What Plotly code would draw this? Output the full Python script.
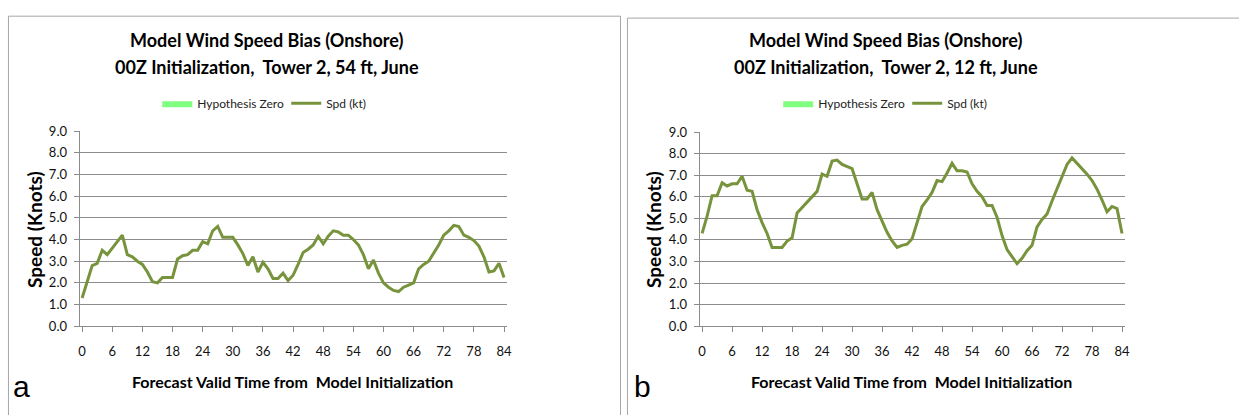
import plotly.graph_objects as go

hours = list(range(85))
hyp_zero = [0] * 85

spd_54ft = [1.3, 2.0, 2.8, 2.9, 3.5, 3.3, 3.6, 3.9, 4.2, 3.3,
            3.2, 3.0, 2.85, 2.5, 2.05, 2.0, 2.25, 2.25, 2.25, 3.1,
            3.25, 3.3, 3.5, 3.5, 3.9, 3.8, 4.4, 4.6, 4.1, 4.1,
            4.1, 3.75, 3.35, 2.8, 3.2, 2.5, 2.95, 2.65, 2.2, 2.2,
            2.45, 2.1, 2.35, 2.85, 3.4, 3.55, 3.75, 4.15, 3.8, 4.15,
            4.4, 4.35, 4.2, 4.2, 4.0, 3.75, 3.3, 2.65, 3.05, 2.45,
            2.0, 1.8, 1.65, 1.6, 1.8, 1.9, 2.0, 2.65, 2.85, 3.0,
            3.35, 3.75, 4.2, 4.4, 4.65, 4.6, 4.2, 4.1, 3.95, 3.7,
            3.2, 2.5, 2.55, 2.9, 2.25]

spd_12ft = [4.3, 5.1, 6.05, 6.05, 6.65, 6.5, 6.6, 6.6, 6.95, 6.3,
            6.25, 5.4, 4.8, 4.3, 3.65, 3.65, 3.65, 3.95, 4.1, 5.25,
            5.5, 5.8, 6.05, 6.25, 7.05, 6.95, 7.65, 7.7, 7.5, 7.4,
            7.3, 6.6, 5.9, 5.9, 6.2, 5.4, 4.85, 4.35, 3.95, 3.65,
            3.75, 3.8, 4.05, 4.8, 5.55, 5.85, 6.2, 6.75, 6.7, 7.1,
            7.55, 7.2, 7.2, 7.15, 6.6, 6.25, 6.0, 5.6, 5.6, 5.05,
            4.2, 3.55, 3.25, 2.9, 3.15, 3.5, 3.75, 4.6, 4.95, 5.2,
            5.8, 6.35, 6.9, 7.5, 7.8, 7.55, 7.35, 7.05, 6.75, 6.35,
            5.85, 5.3, 5.55, 5.45, 4.3]

x_ticks = list(range(0, 85, 6))
title_line1 = ["Model Wind Speed Bias (Onshore)", "Model Wind Speed Bias (Onshore)"]
title_line2 = ["00Z Initialization,  Tower 2, 54 ft, June", "00Z Initialization,  Tower 2, 12 ft, June"]
panel_letters = ["a", "b"]

W, H = 1239, 415
LINE = "#77933C"
HYP = "#80FF80"
GRID = "#8C8C8C"
FONT = "Lato"

def px(x):
    return x / W

def py(y):
    return 1 - y / H

fig = go.Figure()

panels = [
    dict(data=spd_54ft, xa="x", ya="y", leg="legend", xd=[px(79), px(508)], yd=[py(331), py(128)],
         box=(7.5, 622.5, 8.5), title_x=267, legend_x=157, ytitle_x=33, xtitle_x=293, letter_x=21),
    dict(data=spd_12ft, xa="x2", ya="y2", leg="legend2", xd=[px(702), px(1129)], yd=[py(331), py(129)],
         box=(629.5, 1260, 10.5), title_x=889, legend_x=781, ytitle_x=655, xtitle_x=915, letter_x=645),
]

layout = dict(width=W, height=H, margin=dict(l=0, r=0, t=0, b=0),
              paper_bgcolor="white", plot_bgcolor="white",
              font=dict(family=FONT, color="#000"), shapes=[], annotations=[])

for i, p in enumerate(panels):
    fig.add_trace(go.Scatter(x=hours, y=hyp_zero, name="Hypothesis Zero", mode="lines",
                             fill="tozeroy", fillcolor=HYP, line=dict(width=0, color=HYP),
                             xaxis=p["xa"], yaxis=p["ya"], legend=p["leg"], hoverinfo="skip"))
    fig.add_trace(go.Scatter(x=hours, y=p["data"], name="Spd (kt)", mode="lines",
                             line=dict(color=LINE, width=3),
                             xaxis=p["xa"], yaxis=p["ya"], legend=p["leg"]))
    suffix = "" if i == 0 else "2"
    layout["xaxis" + suffix] = dict(domain=p["xd"], range=[-0.5, 84.5], tickvals=x_ticks,
                                    ticks="outside", ticklen=5, tickcolor=GRID, showline=True,
                                    linecolor=GRID, linewidth=1, showgrid=False, zeroline=False,
                                    anchor=p["ya"], tickfont=dict(size=13, family=FONT, color="#111"),
                                    ticklabelstandoff=8)
    layout["yaxis" + suffix] = dict(domain=p["yd"], range=[0, 9], dtick=1, tick0=0, tickformat=".1f",
                                    ticks="outside", ticklen=5, tickcolor=GRID, showline=True,
                                    linecolor=GRID, linewidth=1, showgrid=True, gridcolor=GRID,
                                    gridwidth=1, zeroline=False, anchor=p["xa"],
                                    tickfont=dict(size=13, family=FONT, color="#111"),
                                    ticklabelstandoff=4)
    layout["legend" + suffix] = dict(orientation="h", x=px(p["legend_x"]), xanchor="left",
                                     y=py(99), yanchor="middle", traceorder="normal",
                                     font=dict(size=12, family=FONT, color="#222"),
                                     bgcolor="rgba(0,0,0,0)", itemwidth=30, tracegroupgap=0,
                                     entrywidth=84, entrywidthmode="pixels")
    x0, x1, y0 = p["box"]
    layout["shapes"].append(dict(type="rect", xref="paper", yref="paper",
                                 x0=px(x0), x1=px(x1), y0=py(y0), y1=py(440),
                                 line=dict(color="#A6A6A6", width=1), fillcolor="rgba(0,0,0,0)"))
    for txt, yy in ((title_line1[i], 33), (title_line2[i], 61)):
        layout["annotations"].append(dict(text="<b>" + txt + "</b>",
                                          xref="paper", yref="paper", x=px(p["title_x"]), y=py(yy),
                                          xanchor="center", yanchor="middle", showarrow=False,
                                          font=dict(size=18, family=FONT, color="#000")))
    layout["annotations"].append(dict(text="<b>Speed (Knots)</b>", textangle=-90,
                                      xref="paper", yref="paper", x=px(p["ytitle_x"]), y=py(230),
                                      xanchor="center", yanchor="middle", showarrow=False,
                                      font=dict(size=19, family=FONT, color="#000")))
    layout["annotations"].append(dict(text="<b>Forecast Valid Time from  Model Initialization</b>",
                                      xref="paper", yref="paper", x=px(p["xtitle_x"]), y=py(388),
                                      xanchor="center", yanchor="middle", showarrow=False,
                                      font=dict(size=16, family=FONT, color="#000")))
    layout["annotations"].append(dict(text=panel_letters[i], xref="paper", yref="paper",
                                      x=px(p["letter_x"]), y=py(394), xanchor="center", yanchor="middle",
                                      showarrow=False,
                                      font=dict(size=30, family="Liberation Sans", color="#000")))

fig.update_layout(**layout)
# remove the browser's default 8px body margin so the 1239x415 figure fills the window exactly
fig.write_html("out.html", config={"displayModeBar": False},
               post_script="document.body.style.margin='0';document.body.style.overflow='hidden';")
